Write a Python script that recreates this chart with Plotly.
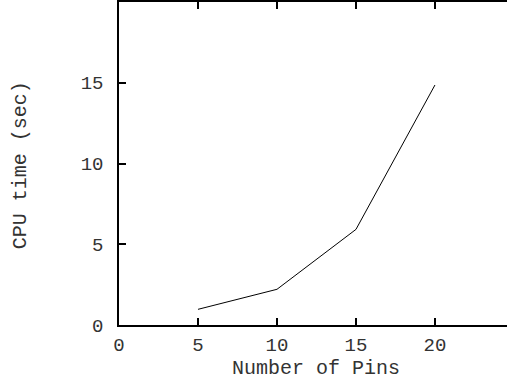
import plotly.graph_objects as go

pins = [5, 10, 15, 20]
cpu_time = [0.97, 2.21, 5.92, 14.86]
x_ticks = [0, 5, 10, 15, 20]
y_ticks = [0, 5, 10, 15]
x_title = "Number of Pins"
y_title = "CPU time (sec)"

font_family = "Liberation Mono, Courier New, monospace"
text_color = "#333"

fig = go.Figure()
fig.add_trace(go.Scatter(x=pins, y=cpu_time, mode="lines",
                         line=dict(color="black", width=1), showlegend=False))

fig.update_layout(
    width=507, height=379,
    margin=dict(l=119, r=0, t=2, b=54, autoexpand=False),
    paper_bgcolor="white", plot_bgcolor="white",
    font=dict(family=font_family, size=20, color=text_color),
)
fig.update_xaxes(
    range=[0, 24.56], tickvals=x_ticks, ticktext=[str(v) for v in x_ticks],
    ticks="inside", ticklen=7, tickwidth=1.5, tickcolor="black",
    showline=True, linecolor="black", linewidth=1.5, mirror="ticks",
    showgrid=False, zeroline=False, automargin=False,
    ticklabelstandoff=1, tickfont=dict(size=19),
)
fig.update_yaxes(
    range=[0, 20], tickvals=y_ticks, ticktext=[str(v) for v in y_ticks],
    ticks="inside", ticklen=7, tickwidth=1.5, tickcolor="black",
    showline=True, linecolor="black", linewidth=1.5, mirror=False,
    showgrid=False, zeroline=False, automargin=False,
    ticklabelstandoff=10, tickfont=dict(size=19),
)
fig.add_annotation(text=x_title, xref="paper", yref="paper",
                   x=0.508, y=-0.136, xanchor="center", yanchor="middle",
                   showarrow=False, font=dict(size=20, color=text_color))
fig.add_annotation(text=y_title, xref="paper", yref="paper",
                   x=-0.255, y=0.495, xanchor="center", yanchor="middle",
                   textangle=-90, showarrow=False,
                   font=dict(size=20, color=text_color))

fig.write_html(
    "out.html",
    config={"displayModeBar": False},
    post_script="document.body.style.margin='0';document.body.style.overflow='hidden';",
)
